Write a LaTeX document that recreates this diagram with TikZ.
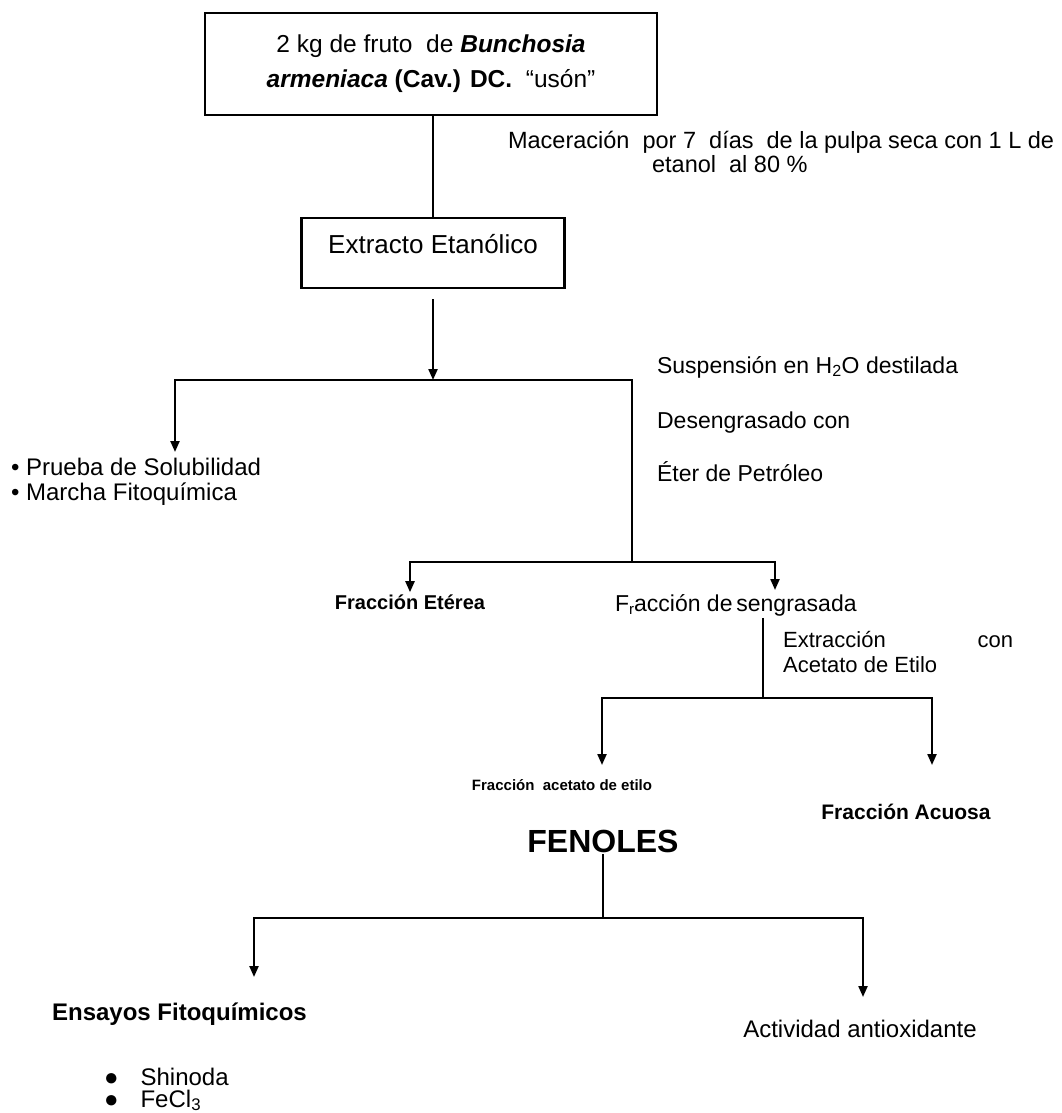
\documentclass[tikz,border=0pt]{standalone}
\usepackage{fontspec}
\setmainfont{Liberation Sans}
\usetikzlibrary{arrows.meta}

\newcommand{\fsz}[1]{\fontsize{#1}{#1}\selectfont}

\begin{document}
\begin{tikzpicture}[x=1pt,y=-1pt,line width=2.2pt,
	arr/.style={-{Triangle[width=9pt,length=11pt]}},
	box/.style={draw,inner sep=0pt},
	lbl/.style={inner sep=1pt,font=\fsz{23}}]

	\useasboundingbox (0,0) rectangle (1062,1113);

	% Draw the boxes
	\node[box,minimum width=452pt,minimum height=102pt,align=center,font=\fontsize{24.5}{35}\selectfont] (fruto) at (431,64)
		{2 kg de fruto \ de \textbf{\textit{Bunchosia}}\\\textbf{\textit{armeniaca} (Cav.) DC.} \ “usón”};
	\node[box,minimum width=263pt,minimum height=70pt,text height=18pt,text depth=18pt,font=\fsz{26}] (etanolico) at (433,253) {Extracto Etanólico};

	% Draw the notes
	\node[lbl,anchor=north west,align=left,font=\fontsize{23.5}{24}\selectfont] (macer) at (506,129)
		{Maceración \ por 7 \ días \ de la pulpa seca con 1 L de\\\hspace*{144pt}etanol \ al 80 \%};
	\foreach \txt/\yy [count=\i] in {Suspensión en H\textsubscript{2}O destilada/373, Desengrasado con/428, Éter de Petróleo/481}
		\node[lbl,anchor=base west] (susp\i) at (655,\yy) {\txt};
	\foreach \txt/\yy [count=\i] in {Prueba de Solubilidad/475, Marcha Fitoquímica/500}
		\node[lbl,anchor=base west,font=\fsz{24}] (prueba\i) at (9,\yy) {\textbullet{} \txt};

	% Draw the fractions
	\node[lbl,anchor=base,font=\bfseries\fsz{20}] (eterea) at (410,609) {Fracción Etérea};
	\node[lbl,anchor=base west] (desengr) at (613,611) {F\raisebox{-0.3ex}{\fsz{15}r}acción de\,sengrasada};
	\node[lbl,anchor=north west,align=left,font=\fontsize{22}{25}\selectfont] (extracc) at (781,629)
		{\makebox[230pt][l]{Extracción\hfill con}\\Acetato de Etilo};
	\node[lbl,anchor=base,font=\bfseries\fsz{15}] (acetato) at (562,790) {Fracción \ acetato de etilo};
	\node[lbl,anchor=base,font=\bfseries\fsz{21}] (acuosa) at (906,819) {Fracción Acuosa};
	\node[lbl,anchor=base,font=\bfseries\fsz{32}] (fenoles) at (603,852) {FENOLES};

	% Draw the assays
	\node[lbl,anchor=base west,font=\bfseries\fsz{24}] (ensayos) at (50,1020) {Ensayos Fitoquímicos};
	\node[lbl,anchor=base,font=\fsz{24}] (activ) at (860,1037) {Actividad antioxidante};
	\foreach \txt/\yy [count=\i] in {Shinoda/1085, FeCl\textsubscript{3}/1107}
		\node[lbl,anchor=base west,font=\fsz{24}] (ensayo\i) at (102,\yy) {●\hspace{22pt}\txt};

	% Draw the connectors
	\coordinate (j1) at (433,380);
	\coordinate (j2) at (632,562);
	\coordinate (j3) at (763,698);
	\coordinate (j4) at (603,918);
	\coordinate (tipA) at (175,452);
	\coordinate (tipB) at (775,590);
	\coordinate (tipC) at (602,765);
	\coordinate (tipD) at (932,765);
	\coordinate (tipE) at (254,977);
	\coordinate (tipF) at (863,997);

	\draw (fruto.south -| j1) -- (etanolico.north);
	\draw[arr] ([yshift=-10pt]etanolico.south) -- (j1);
	\draw[arr] (j1) -| (tipA);
	\draw (j1) -| (j2);
	\draw[arr] (j2) -| (eterea.north);
	\draw[arr] (j2) -| (tipB);
	\draw (desengr.south -| j3) -- (j3);
	\foreach \t in {tipC,tipD}
		\draw[arr] (j3) -| (\t);
	\draw (fenoles.south) -- (j4);
	\foreach \t in {tipE,tipF}
		\draw[arr] (j4) -| (\t);

\end{tikzpicture}
\end{document}
